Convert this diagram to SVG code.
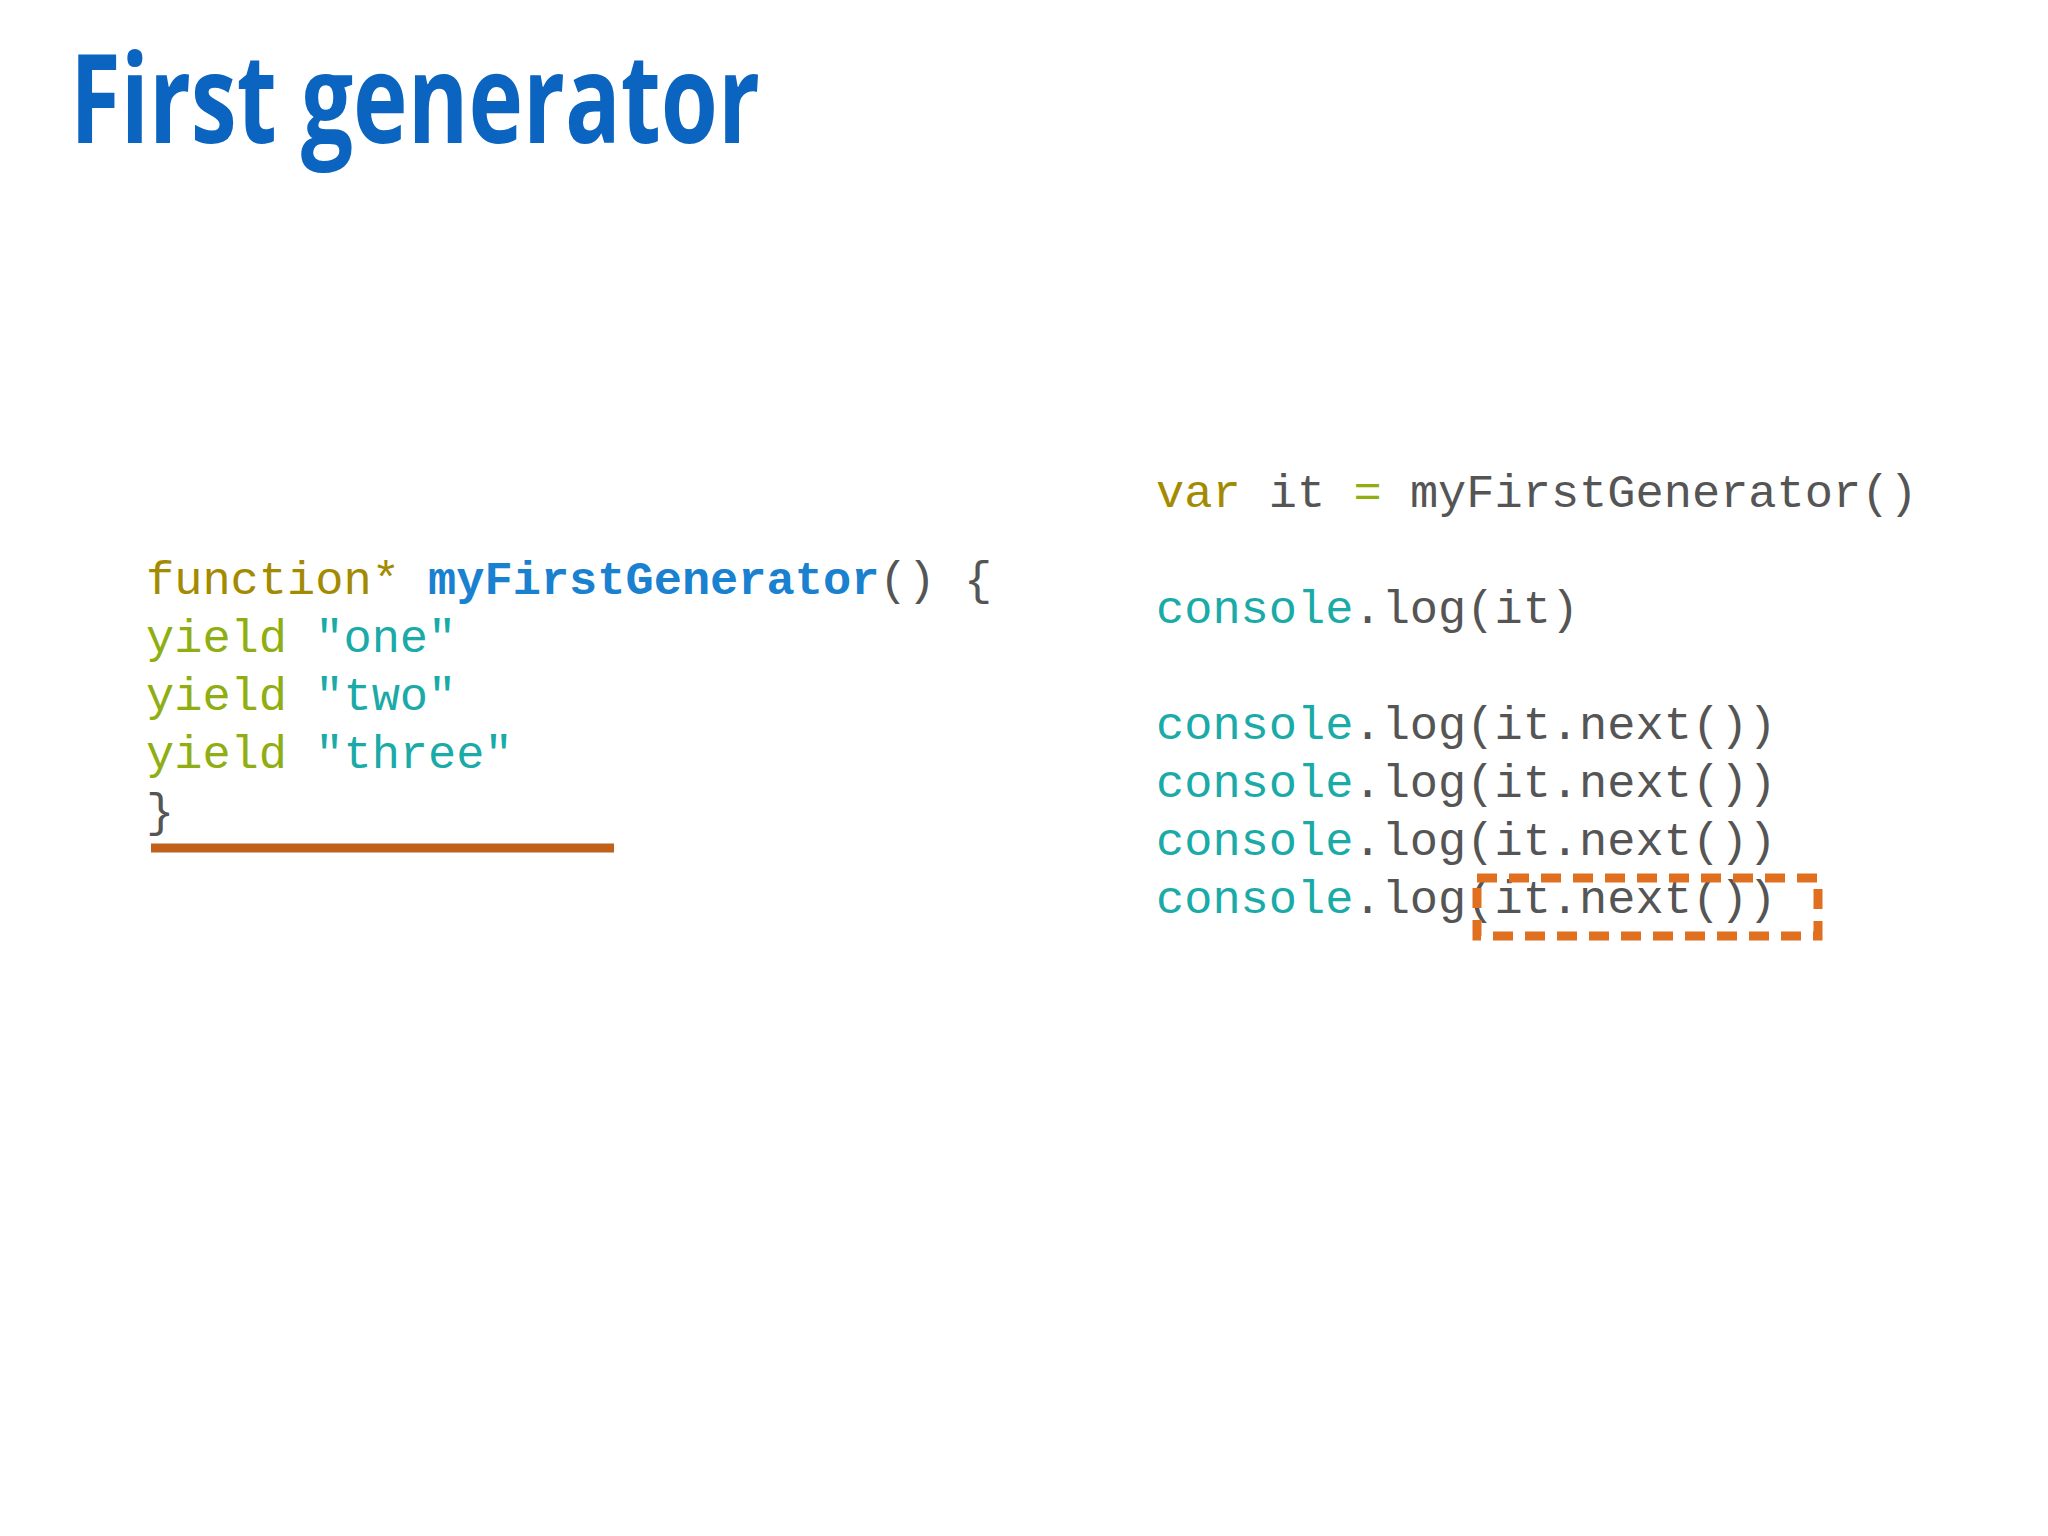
<svg xmlns="http://www.w3.org/2000/svg" width="2048" height="1536" viewBox="0 0 2048 1536">
<style>
.c{font-family:"Liberation Mono","DejaVu Sans Mono",monospace;font-size:47px;fill:#555}
.kw{fill:#a38a00}.fn{fill:#1a80d0;font-weight:bold}.y{fill:#8fae12}.s{fill:#1aaaa8}.t{fill:#1aaaa8}
</style>
<rect width="2048" height="1536" fill="#fff"/>
<g id="title"><text x="70" y="143" font-family="'Liberation Sans Narrow','Open Sans',sans-serif" font-weight="bold" font-size="124" fill="#0a64c0" textLength="690" lengthAdjust="spacingAndGlyphs">First generator</text></g>
<g id="left" class="c" xml:space="preserve">
<text x="146" y="594"><tspan class="kw">function*</tspan> <tspan class="fn">myFirstGenerator</tspan>() {</text>
<text x="146" y="652">    <tspan class="y">yield</tspan> <tspan class="s">"one"</tspan></text>
<text x="146" y="710">    <tspan class="y">yield</tspan> <tspan class="s">"two"</tspan></text>
<text x="146" y="768">    <tspan class="y">yield</tspan> <tspan class="s">"three"</tspan></text>
<text x="146" y="826">}</text>
</g>
<g id="right" class="c" xml:space="preserve">
<text x="1156" y="507"><tspan class="kw">var</tspan> it <tspan class="y">=</tspan> myFirstGenerator()</text>
<text x="1156" y="623"><tspan class="t">console</tspan>.log(it)</text>
<text x="1156" y="739"><tspan class="t">console</tspan>.log(it.next())</text>
<text x="1156" y="797"><tspan class="t">console</tspan>.log(it.next())</text>
<text x="1156" y="855"><tspan class="t">console</tspan>.log(it.next())</text>
<text x="1156" y="913"><tspan class="t">console</tspan>.log(it.next())</text>
</g>
<g id="marks">
<line x1="151" y1="848" x2="614" y2="848" stroke="#c0601a" stroke-width="9"/>
<rect x="1477" y="878" width="341" height="58" fill="none" stroke="#e07020" stroke-width="9" stroke-dasharray="20 12"/>
</g>
</svg>
